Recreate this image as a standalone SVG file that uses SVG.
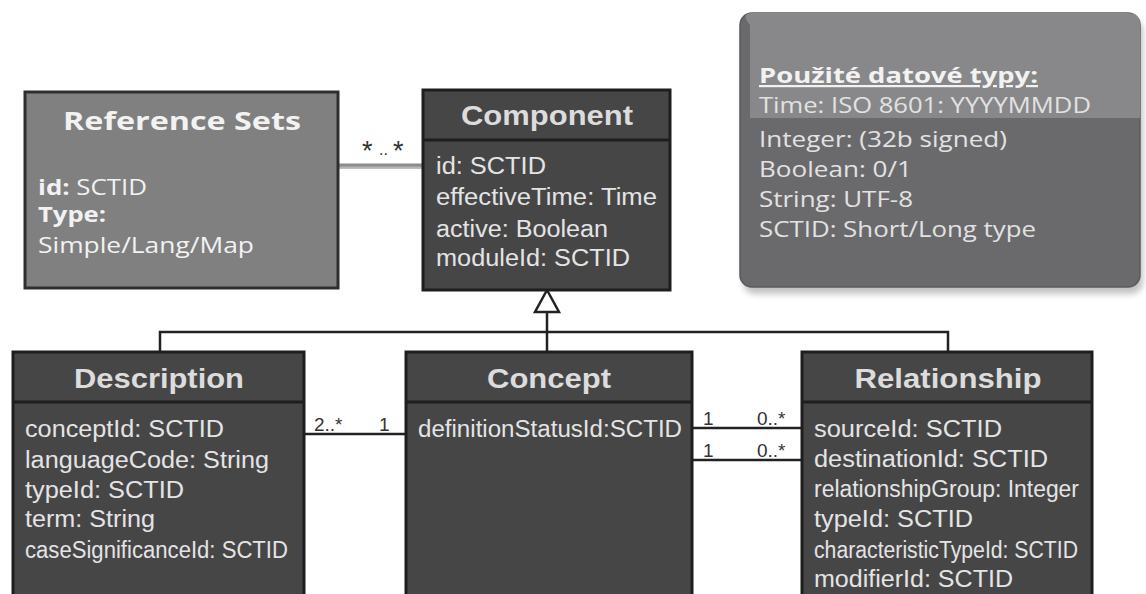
<svg xmlns="http://www.w3.org/2000/svg" width="1146" height="594" viewBox="0 0 1146 594">
<style>
.box{fill:#464647;stroke:#1e1e1e;stroke-width:3}
.sep{stroke:#1e1e1e;stroke-width:3}
.ttl{font-family:"Liberation Sans",Arial,sans-serif;font-weight:bold;font-size:27px;fill:#dcdcdc;text-anchor:middle}
.itm{font-family:"Liberation Sans",Arial,sans-serif;font-size:23px;fill:#e4e4e4}
.lbl{font-family:"Liberation Sans",Arial,sans-serif;font-size:19px;fill:#333}
.cal{font-family:"Open Sans","Noto Sans",sans-serif;fill:#f2f2f2}
.ri{font-family:"Open Sans","Noto Sans",sans-serif;fill:#f2f2f2;font-size:22px}
.dt{font-family:"Open Sans","Noto Sans",sans-serif;font-size:22px;fill:#e2e2e2}
.ln{stroke:#222;stroke-width:2.5;fill:none}
</style>
<defs>
<filter id="sh" x="-10%" y="-10%" width="120%" height="130%"><feGaussianBlur stdDeviation="3"/></filter>
</defs>
<rect width="1146" height="594" fill="#ffffff"/>

<g id="connectors">
<line x1="338" y1="166" x2="423" y2="166" stroke="#8c8c8c" stroke-width="5"/>
<line x1="338" y1="167.5" x2="423" y2="167.5" stroke="#b4b4b4" stroke-width="2"/>
<text class="lbl" x="362" y="160" style="font-size:27px">*</text>
<text class="lbl" x="379" y="155" style="font-size:16px">..</text>
<text class="lbl" x="393" y="160" style="font-size:27px">*</text>
<polygon points="547,290 535,312 559,312" fill="#fff" stroke="#222" stroke-width="2.5"/>
<line class="ln" x1="547" y1="312" x2="547" y2="352"/>
<polyline class="ln" points="160,352 160,332 948,332 948,352"/>
<line class="ln" x1="304" y1="434" x2="406" y2="434"/>
<text class="lbl" x="314" y="431">2..*</text>
<text class="lbl" x="379" y="431">1</text>
<line class="ln" x1="692" y1="428" x2="802" y2="428"/>
<line class="ln" x1="692" y1="460" x2="802" y2="460"/>
<text class="lbl" x="703" y="425">1</text>
<text class="lbl" x="757" y="425">0..*</text>
<text class="lbl" x="703" y="457">1</text>
<text class="lbl" x="757" y="457">0..*</text>
</g>

<g id="reference-sets">
<rect x="25" y="92" width="313" height="196" fill="#808081" stroke="#2e2e2e" stroke-width="3"/>
<text class="cal" x="182" y="130" font-size="25" font-weight="bold" text-anchor="middle" textLength="238" lengthAdjust="spacingAndGlyphs">Reference Sets</text>
<text class="ri" x="38" y="195" textLength="109" lengthAdjust="spacingAndGlyphs"><tspan font-weight="bold">id:</tspan> SCTID</text>
<text class="ri" x="38" y="222" font-weight="bold" textLength="68" lengthAdjust="spacingAndGlyphs">Type:</text>
<text class="ri" x="38" y="253" textLength="216" lengthAdjust="spacingAndGlyphs">Simple/Lang/Map</text>
</g>

<g id="component">
<rect class="box" x="423" y="90" width="247" height="200"/>
<line class="sep" x1="423" y1="140" x2="670" y2="140"/>
<text class="ttl" x="547" y="125" textLength="172" lengthAdjust="spacingAndGlyphs">Component</text>
<text class="itm" x="436" y="174" textLength="110" lengthAdjust="spacingAndGlyphs">id: SCTID</text>
<text class="itm" x="436" y="205" textLength="221" lengthAdjust="spacingAndGlyphs">effectiveTime: Time</text>
<text class="itm" x="436" y="237" textLength="172" lengthAdjust="spacingAndGlyphs">active: Boolean</text>
<text class="itm" x="436" y="266" textLength="194" lengthAdjust="spacingAndGlyphs">moduleId: SCTID</text>
</g>

<g id="data-types">
<rect x="743" y="19" width="400" height="275" rx="12" fill="#9a9a9a" opacity="0.6" filter="url(#sh)"/>
<rect x="740" y="13" width="400" height="274" rx="12" fill="#6a6a6c" stroke="#5a5a5a" stroke-width="1.5"/>
<path d="M752,13 H1128 Q1140,13 1140,25 V118 H750 V25 Q740,13 752,13 Z" fill="#88888a"/>
<text class="cal" x="759" y="83" font-size="22" font-weight="bold" text-decoration="underline" textLength="279" lengthAdjust="spacingAndGlyphs">Použité datové typy:</text>
<text class="dt" x="759" y="113" textLength="332" lengthAdjust="spacingAndGlyphs">Time: ISO 8601: YYYYMMDD</text>
<text class="dt" x="759" y="147" textLength="248" lengthAdjust="spacingAndGlyphs">Integer: (32b signed)</text>
<text class="dt" x="759" y="177" textLength="153" lengthAdjust="spacingAndGlyphs">Boolean: 0/1</text>
<text class="dt" x="759" y="207" textLength="154" lengthAdjust="spacingAndGlyphs">String: UTF-8</text>
<text class="dt" x="759" y="237" textLength="277" lengthAdjust="spacingAndGlyphs">SCTID: Short/Long type</text>
</g>

<g id="description">
<rect class="box" x="13" y="352" width="291" height="260"/>
<line class="sep" x1="13" y1="402" x2="304" y2="402"/>
<text class="ttl" x="159" y="388" textLength="170" lengthAdjust="spacingAndGlyphs">Description</text>
<text class="itm" x="25" y="437" textLength="199" lengthAdjust="spacingAndGlyphs">conceptId: SCTID</text>
<text class="itm" x="25" y="468" textLength="244" lengthAdjust="spacingAndGlyphs">languageCode: String</text>
<text class="itm" x="25" y="498" textLength="159" lengthAdjust="spacingAndGlyphs">typeId: SCTID</text>
<text class="itm" x="25" y="527" textLength="130" lengthAdjust="spacingAndGlyphs">term: String</text>
<text class="itm" x="25" y="558" textLength="263" lengthAdjust="spacingAndGlyphs">caseSignificanceId: SCTID</text>
</g>

<g id="concept">
<rect class="box" x="406" y="352" width="286" height="260"/>
<line class="sep" x1="406" y1="402" x2="692" y2="402"/>
<text class="ttl" x="549" y="388" textLength="124" lengthAdjust="spacingAndGlyphs">Concept</text>
<text class="itm" x="418" y="437" textLength="264" lengthAdjust="spacingAndGlyphs">definitionStatusId:SCTID</text>
</g>

<g id="relationship">
<rect class="box" x="802" y="352" width="290" height="260"/>
<line class="sep" x1="802" y1="402" x2="1092" y2="402"/>
<text class="ttl" x="948" y="388" textLength="187" lengthAdjust="spacingAndGlyphs">Relationship</text>
<text class="itm" x="814" y="437" textLength="188" lengthAdjust="spacingAndGlyphs">sourceId: SCTID</text>
<text class="itm" x="814" y="467" textLength="234" lengthAdjust="spacingAndGlyphs">destinationId: SCTID</text>
<text class="itm" x="814" y="497" textLength="265" lengthAdjust="spacingAndGlyphs">relationshipGroup: Integer</text>
<text class="itm" x="814" y="527" textLength="159" lengthAdjust="spacingAndGlyphs">typeId: SCTID</text>
<text class="itm" x="814" y="558" textLength="264" lengthAdjust="spacingAndGlyphs">characteristicTypeId: SCTID</text>
<text class="itm" x="814" y="587" textLength="199" lengthAdjust="spacingAndGlyphs">modifierId: SCTID</text>
</g>
</svg>
